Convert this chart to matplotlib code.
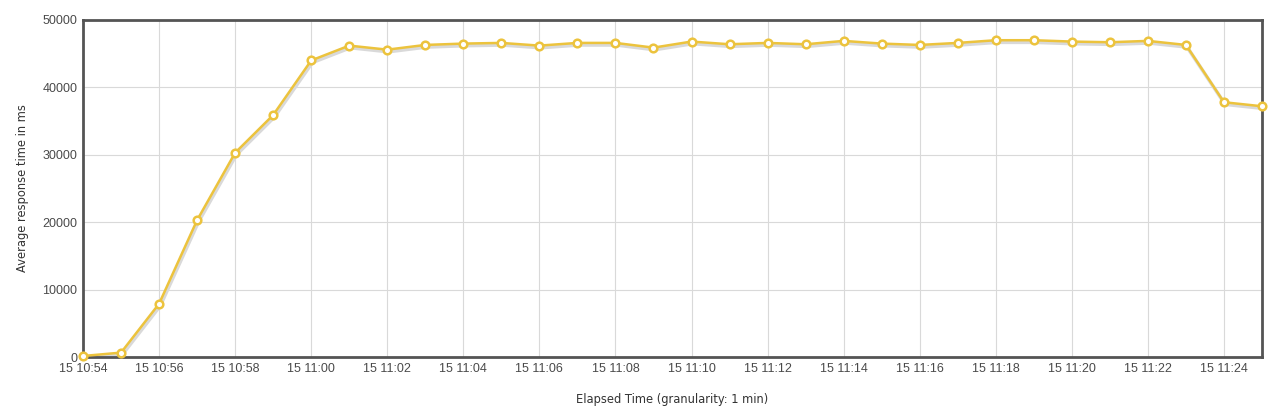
import matplotlib
matplotlib.use("Agg")
import matplotlib.pyplot as plt
import matplotlib.transforms as mtransforms

times = ["10:54", "10:55", "10:56", "10:57", "10:58", "10:59", "11:00", "11:01",
         "11:02", "11:03", "11:04", "11:05", "11:06", "11:07", "11:08", "11:09",
         "11:10", "11:11", "11:12", "11:13", "11:14", "11:15", "11:16", "11:17",
         "11:18", "11:19", "11:20", "11:21", "11:22", "11:23", "11:24", "11:25"]
avg_ms = [150, 650, 7900, 20300, 30300, 35900, 44000, 46200,
          45600, 46300, 46500, 46600, 46200, 46600, 46600, 45900,
          46800, 46400, 46600, 46400, 46900, 46500, 46300, 46600,
          47000, 47000, 46800, 46700, 46900, 46300, 37800, 37200]
tick_labels = ["15 " + t for t in times[::2]]
y_ticks = [0, 10000, 20000, 30000, 40000, 50000]

plt.rcParams['font.family'] = ['Liberation Sans', 'DejaVu Sans']

fig = plt.figure(figsize=(12.83, 4.15), dpi=100)
ax = fig.add_axes([83/1283, (415-357)/415, (1262-83)/1283, (357-20)/415])

x = list(range(len(times)))
shadow = mtransforms.offset_copy(ax.transData, fig=fig, x=0.8, y=-1.5, units='points')
ax.plot(x, avg_ms, color='#d9d9d9', lw=2.6, transform=shadow, zorder=2, solid_capstyle='round')
ax.plot(x, avg_ms, color='#ecc33d', lw=1.8, zorder=3,
        marker='o', markersize=5.5, markerfacecolor='white',
        markeredgecolor='#ecc33d', markeredgewidth=1.8, clip_on=False)

ax.set_xlim(0, len(times) - 1)
ax.set_ylim(0, 50000)
ax.set_xticks(x[::2])
ax.set_xticklabels(tick_labels)
ax.set_yticks(y_ticks)
ax.set_yticklabels([str(v) for v in y_ticks])
ax.tick_params(length=0, labelsize=9, colors='#4a4a4a', pad=4)
ax.grid(True, color='#d9d9d9', lw=0.8)
ax.set_axisbelow(True)
for s in ax.spines.values():
    s.set_color('#545454')
    s.set_linewidth(2)

ax.set_xlabel("Elapsed Time (granularity: 1 min)", fontsize=8.3, color='#333333',
              labelpad=13, family=['DejaVu Sans'])
ax.set_ylabel("Average response time in ms", fontsize=8.3, color='#333333',
              labelpad=10, family=['DejaVu Sans'])

fig.savefig("out.png", dpi=100)
